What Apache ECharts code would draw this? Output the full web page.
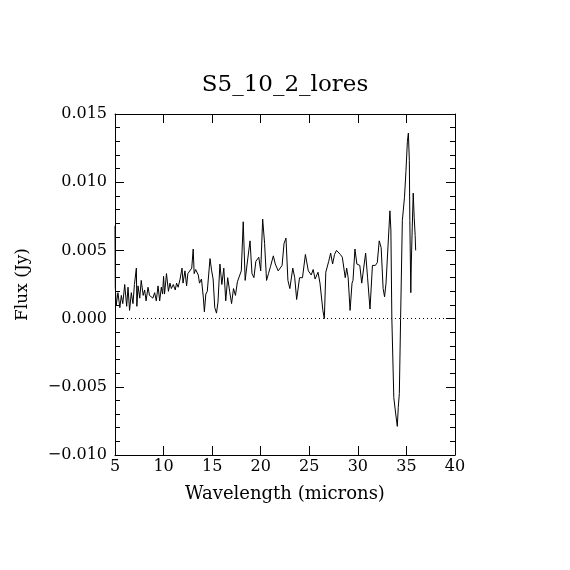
<!DOCTYPE html>
<html>
<head>
<meta charset="utf-8">
<script src="https://cdn.jsdelivr.net/npm/echarts@6/dist/echarts.min.js"></script>
<style>
  html, body { margin: 0; padding: 0; background: #fff; }
  #chart { width: 570px; height: 570px; }
</style>
</head>
<body>
<div id="chart"></div>
<script>
const title = 'S5_10_2_lores'
const xTitle = 'Wavelength (microns)'
const yTitle = 'Flux (Jy)'

// wavelength (microns) and flux (Jy)
const wavelength = [
  5.00, 5.03, 5.13, 5.3, 5.5, 5.65, 5.8, 6.0, 6.2, 6.34, 6.5, 6.68, 6.85, 7.0, 7.2, 7.25, 7.37, 7.55, 7.7, 7.9,
  8.05, 8.2, 8.4, 8.55, 8.74, 8.9, 9.08, 9.25, 9.43, 9.6, 9.77, 9.9, 10.0, 10.1, 10.3, 10.5, 10.66, 10.8, 11.0, 11.2,
  11.34, 11.5, 11.7, 11.9, 12.0, 12.2, 12.37, 12.5, 12.7, 12.9, 13.05, 13.15, 13.3, 13.57, 13.7, 13.9, 14.1, 14.2, 14.35, 14.5,
  14.78, 14.95, 15.1, 15.27, 15.45, 15.6, 15.8, 16.0, 16.2, 16.4, 16.6, 16.8, 17.0, 17.2, 17.4, 17.6, 17.8, 18.0, 18.2, 18.4,
  18.6, 18.9, 19.1, 19.3, 19.5, 19.8, 20.0, 20.2, 20.4, 20.6, 20.8, 21.0, 21.3, 21.5, 21.8, 22.0, 22.2, 22.4, 22.6, 22.8,
  23.0, 23.3, 23.5, 23.7, 24.0, 24.3, 24.6, 24.9, 25.2, 25.4, 25.6, 25.9, 26.1, 26.4, 26.55, 26.7, 27.0, 27.2, 27.4, 27.6,
  27.8, 27.95, 28.2, 28.4, 28.7, 28.85, 29.0, 29.2, 29.4, 29.5, 29.7, 29.9, 30.2, 30.4, 30.6, 30.8, 31.0, 31.25, 31.5, 31.8,
  32.0, 32.2, 32.4, 32.6, 32.75, 32.9, 33.1, 33.3, 33.4, 33.5, 33.7, 33.9, 34.06, 34.16, 34.27, 34.4, 34.58, 34.8, 34.95, 35.1,
  35.2, 35.3, 35.35, 35.45, 35.5, 35.6, 35.7, 35.8, 35.9, 35.95
]
const flux = [
  0.0068, 0.0023, 0.0010, 0.0019, 0.0008, 0.0017, 0.0011, 0.0025, 0.0009, 0.0023, 0.0006, 0.0019, 0.0011, 0.0025, 0.0037, 0.0009, 0.0024, 0.0015, 0.0028, 0.0017,
  0.0021, 0.0013, 0.0023, 0.0017, 0.0018, 0.0015, 0.0019, 0.0013, 0.0024, 0.0013, 0.0023, 0.0018, 0.0031, 0.0018, 0.0033, 0.0020, 0.0026, 0.0022, 0.0025, 0.0021,
  0.0026, 0.0023, 0.0029, 0.0037, 0.0026, 0.0035, 0.0024, 0.0033, 0.0034, 0.0037, 0.0051, 0.0033, 0.0036, 0.0032, 0.0026, 0.0029, 0.0015, 0.0005, 0.0018, 0.0020,
  0.0044, 0.0035, 0.0029, 0.0008, 0.0004, 0.0012, 0.0040, 0.0025, 0.0037, 0.0013, 0.0030, 0.0020, 0.0011, 0.0022, 0.0017, 0.0027, 0.0028, 0.0035, 0.0071, 0.0028,
  0.0040, 0.0057, 0.0033, 0.0030, 0.0042, 0.0045, 0.0035, 0.0073, 0.0055, 0.0028, 0.0033, 0.0038, 0.0046, 0.0040, 0.0035, 0.0037, 0.0039, 0.0055, 0.0059, 0.0028,
  0.0022, 0.0037, 0.0030, 0.0014, 0.0030, 0.0030, 0.0047, 0.0035, 0.0032, 0.0036, 0.0029, 0.0034, 0.0026, 0.0006, 0.0000, 0.0034, 0.0042, 0.0048, 0.0040, 0.0047,
  0.0050, 0.0049, 0.0047, 0.0045, 0.0030, 0.0037, 0.0030, 0.0006, 0.0026, 0.0028, 0.0051, 0.0040, 0.0039, 0.0026, 0.0037, 0.0048, 0.0030, 0.0007, 0.0039, 0.0039,
  0.0041, 0.0057, 0.0052, 0.0022, 0.0016, 0.0026, 0.0026, 0.0079, 0.0065, 0.0000, -0.0058, -0.0070, -0.0079, -0.0065, -0.0055, 0.0000, 0.0072, 0.0089, 0.0108, 0.0130,
  0.0136, 0.0116, 0.0072, 0.0019, 0.0040, 0.0067, 0.0092, 0.0074, 0.0061, 0.0050
]

const chart = echarts.init(document.getElementById('chart'))

const font = 'DejaVu Serif'
const axisLine = { show: true, onZero: false, lineStyle: { color: '#000', width: 1 } }

const yLabel = v => {
    const s = Math.abs(v).toFixed(3)
    return v < -1e-9 ? '\u2212' + s : s
}

chart.setOption({
    animation: false,
    backgroundColor: '#fff',
    title: {
        text: title,
        left: 'center',
        top: 69,
        textStyle: { fontFamily: font, fontWeight: 'normal', fontSize: 23, color: '#000' }
    },
    grid: { left: 115, right: 115, top: 114, bottom: 115 },
    xAxis: [
        {
            type: 'value', min: 5, max: 40, interval: 5, position: 'bottom',
            name: xTitle, nameLocation: 'middle', nameGap: 30,
            nameTextStyle: { fontFamily: font, fontSize: 18, color: '#000' },
            axisLine,
            axisTick: { show: true, inside: true, length: 9, lineStyle: { color: '#000' } },
            axisLabel: { fontFamily: font, fontSize: 16, color: '#000', margin: 4 },
            splitLine: { show: false }
        },
        {
            type: 'value', min: 5, max: 40, interval: 5, position: 'top',
            axisLine,
            axisTick: { show: true, inside: true, length: 9, lineStyle: { color: '#000' } },
            axisLabel: { show: false },
            splitLine: { show: false }
        }
    ],
    yAxis: [
        {
            type: 'value', min: -0.010, max: 0.015, interval: 0.005, position: 'left',
            name: yTitle, nameLocation: 'middle', nameGap: 84, nameRotate: 90,
            nameTextStyle: { fontFamily: font, fontSize: 17, color: '#000' },
            axisLine,
            axisTick: { show: true, inside: true, length: 9, lineStyle: { color: '#000' } },
            minorTick: { show: true, splitNumber: 5, length: 5, lineStyle: { color: '#000' } },
            axisLabel: { fontFamily: font, fontSize: 16, color: '#000', margin: 8, formatter: yLabel },
            splitLine: { show: false }
        },
        {
            type: 'value', min: -0.010, max: 0.015, interval: 0.005, position: 'right',
            axisLine,
            axisTick: { show: true, inside: true, length: 9, lineStyle: { color: '#000' } },
            minorTick: { show: true, splitNumber: 5, length: 5, lineStyle: { color: '#000' } },
            axisLabel: { show: false },
            splitLine: { show: false }
        }
    ],
    series: [
        {
            type: 'line',
            data: wavelength.map((w, i) => [w, flux[i]]),
            symbol: 'none',
            lineStyle: { color: '#000', width: 1 },
            markLine: {
                silent: true,
                symbol: 'none',
                label: { show: false },
                lineStyle: { color: '#000', type: [1, 3], width: 1 },
                data: [{ yAxis: 0 }]
            }
        }
    ]
})
</script>
</body>
</html>
